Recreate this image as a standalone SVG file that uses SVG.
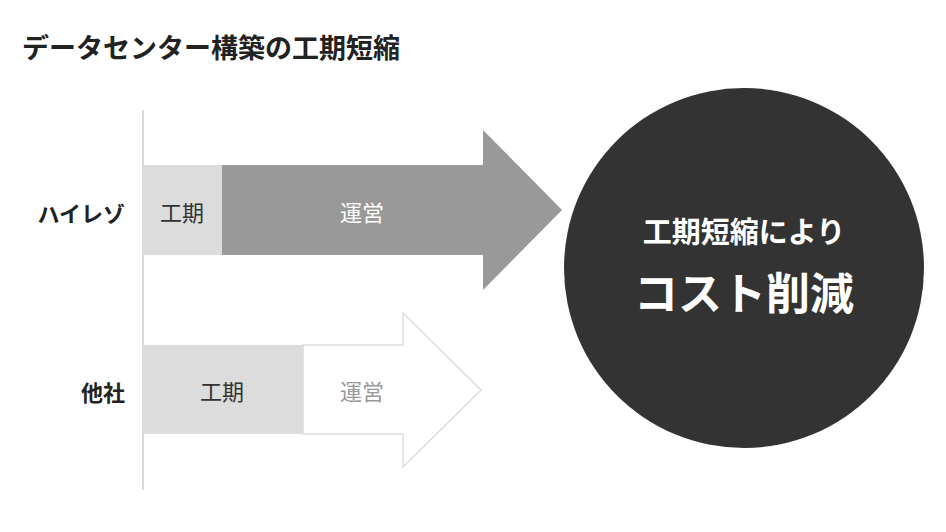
<svg xmlns="http://www.w3.org/2000/svg" width="946" height="532" viewBox="0 0 946 532">
<style>
text{font-family:"Noto Sans CJK JP","Noto Sans",sans-serif}
.lbl{font-size:22px;fill:#222;font-weight:bold}
.in{font-size:22px;text-anchor:middle;dominant-baseline:central}
</style>
<rect width="946" height="532" fill="#fff"/>
<text x="22" y="58" font-size="27" font-weight="bold" fill="#222">データセンター構築の工期短縮</text>
<g id="connectors"><line x1="143" y1="110" x2="143" y2="490" stroke="#ccc" stroke-width="1.5"/></g>
<g id="row1">
<text class="lbl" x="125" y="222" text-anchor="end">ハイレゾ</text>
<rect x="143" y="165" width="79" height="90" fill="#dcdcdc"/>
<text class="in" x="182" y="211" fill="#333">工期</text>
<polygon points="222,165 483,165 483,130 562,210 483,290 483,255 222,255" fill="#999"/>
<text class="in" x="362" y="211" fill="#fff">運営</text>
</g>
<g id="row2">
<text class="lbl" x="125" y="401" text-anchor="end">他社</text>
<rect x="143" y="345" width="160" height="89" fill="#dcdcdc"/>
<text class="in" x="222" y="390" fill="#333">工期</text>
<polygon points="303,345 403,345 403,313 481,390 403,467 403,434 303,434" fill="#fff" stroke="#ddd" stroke-width="1.5"/>
<text class="in" x="362" y="390" fill="#999">運営</text>
</g>
<g id="result">
<circle cx="744" cy="268" r="180" fill="#333"/>
<text x="744" y="243" font-size="29" font-weight="bold" fill="#fff" text-anchor="middle">工期短縮により</text>
<text x="744" y="310" font-size="44" font-weight="bold" fill="#fff" text-anchor="middle">コスト削減</text>
</g>
</svg>
